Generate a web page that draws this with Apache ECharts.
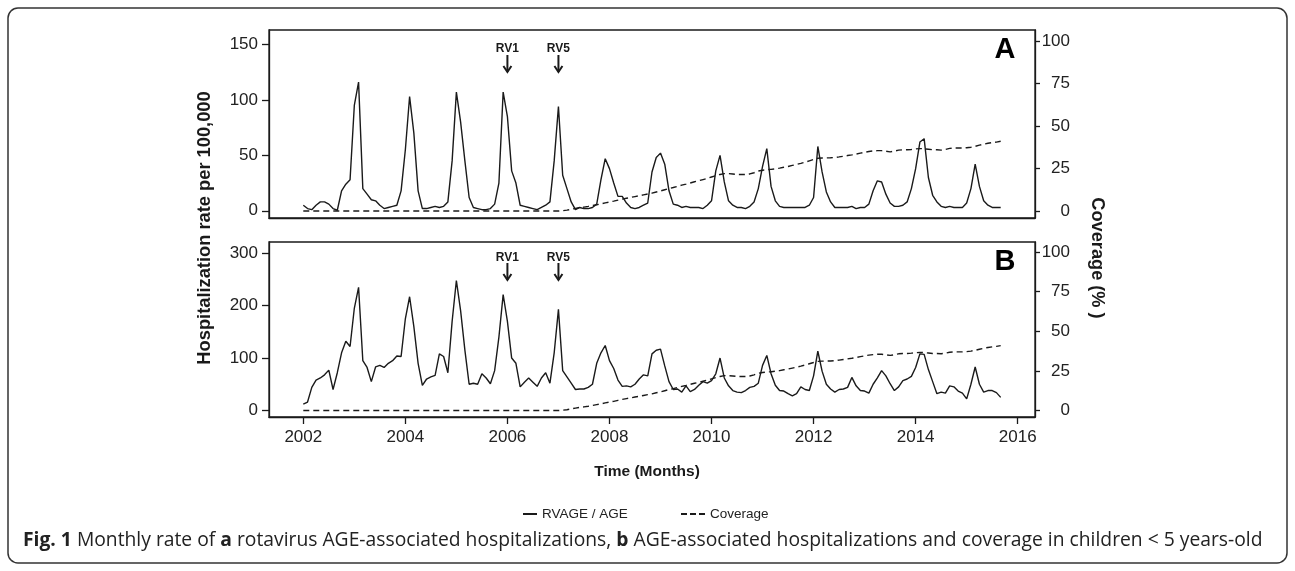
<!DOCTYPE html>
<html>
<head>
<meta charset="utf-8">
<script src="https://cdn.jsdelivr.net/npm/echarts@6/dist/echarts.min.js"></script>
<style>
html,body{margin:0;padding:0;background:#fff;}
#chart{width:1295px;height:571px;}
</style>
</head>
<body>
<div id="chart"></div>
<script>
// ---------- data (monthly, Jan 2002 .. Sep 2015) ----------
const startYear = 2002;
// Panel A: rotavirus AGE hospitalization rate per 100,000
const rvageA = [
  5, 2, 1, 5, 8, 8, 6, 2, 0.5, 18, 24, 28,
  95, 116, 20, 15, 10, 9, 5, 2, 3, 4, 5, 18,
  55, 103, 70, 18, 2, 2, 3, 4, 3, 4, 8, 45,
  107, 80, 45, 12, 3, 2, 1, 1, 2, 6, 25, 107,
  85, 36, 25, 5, 4, 3, 2, 1, 3, 5, 8, 45,
  94, 32, 20, 8, 1, 3, 2, 2, 3, 6, 28, 47,
  38, 25, 13, 13, 7, 3, 2, 3, 5, 7, 35, 48,
  52, 42, 18, 6, 5, 3, 4, 3, 3, 3, 2, 5,
  9, 36, 50, 26, 9, 5, 3, 3, 2, 4, 8, 20,
  40, 56, 22, 9, 4, 3, 3, 3, 3, 3, 3, 5,
  12, 58, 35, 17, 8, 3, 3, 3, 3, 4, 2, 3,
  3, 6, 18, 27, 26, 15, 7, 4, 4, 5, 8, 20,
  38, 62, 65, 30, 14, 8, 4, 3, 4, 3, 3, 3,
  7, 20, 42, 22, 9, 5, 3, 3, 3
];
// Panel B: all-cause AGE hospitalization rate per 100,000
const ageB = [
  12, 16, 44, 58, 62, 68, 77, 40, 72, 110, 132, 122,
  195, 235, 95, 82, 55, 83, 86, 82, 90, 95, 104, 103,
  175, 217, 160, 90, 48, 60, 64, 67, 108, 103, 72, 170,
  248, 190, 115, 50, 52, 50, 70, 62, 51, 76, 140, 221,
  170, 100, 90, 45, 54, 62, 54, 46, 62, 72, 52, 110,
  193, 76, 64, 52, 40, 41, 41, 44, 50, 90, 110, 124,
  95, 80, 58, 46, 47, 45, 50, 60, 68, 66, 108, 115,
  117, 85, 55, 40, 41, 35, 47, 36, 40, 48, 55, 52,
  57, 70, 100, 62, 47, 38, 35, 34, 38, 44, 46, 52,
  86, 105, 70, 48, 38, 37, 32, 28, 32, 45, 40, 38,
  66, 113, 75, 50, 41, 35, 40, 41, 44, 63, 47, 38,
  37, 33, 50, 62, 76, 66, 51, 38, 45, 57, 60, 65,
  82, 108, 107, 78, 55, 32, 35, 33, 47, 45, 37, 33,
  22, 50, 83, 50, 35, 38, 38, 34, 25
];
// Vaccine coverage (%)
const coverage = [
  0,0,0,0,0,0,0,0,0,0,0,0,
  0,0,0,0,0,0,0,0,0,0,0,0,
  0,0,0,0,0,0,0,0,0,0,0,0,
  0,0,0,0,0,0,0,0,0,0,0,0,
  0,0,0,0,0,0,0,0,0,0,0,0,
  0, 0.2, 0.5, 1, 1.5, 2, 2.3, 2.7, 3.2, 3.7, 4.2, 4.8,
  5.3, 5.8, 6.4, 7, 7.5, 8, 8.5, 9, 9.5, 10, 10.5, 11.2,
  11.8, 12.5, 13.2, 13.8, 14.5, 15.2, 15.8, 16.5, 17.2, 17.8, 18.5, 19.2,
  20, 20.8, 21.5, 22, 22, 21.8, 21.5, 21.5, 21.5, 21.8, 22.5, 23.5,
  24, 24.3, 24.5, 24.8, 25.2, 25.7, 26.2, 26.8, 27.4, 28, 28.7, 29.5,
  30.3, 31, 31.2, 31.2, 31.3, 31.5, 31.8, 32.2, 32.6, 33, 33.5, 34,
  34.5, 35, 35.3, 35.5, 35.5, 35.2, 34.8, 35.2, 35.8, 36, 36, 36.2,
  36.5, 36.7, 36.6, 36.3, 36, 36, 35.8, 36.2, 36.8, 37, 37, 37,
  37.2, 37.5, 38, 38.7, 39.3, 39.8, 40.2, 40.5, 41
];
const yearTicks = [2002, 2004, 2006, 2008, 2010, 2012, 2014, 2016];
const ticksA = [0, 50, 100, 150];
const ticksB = [0, 100, 200, 300];
const ticksCov = [0, 25, 50, 75, 100];
const vaccines = [{ name: 'RV1', year: 2006 }, { name: 'RV5', year: 2007 }];
const panelLabels = ['A', 'B'];

// ---------- chart ----------
const FONT = '"Liberation Sans", Arial, Helvetica, sans-serif';
const INK = '#1a1a1a';
const toXY = arr => arr.map((v, i) => [startYear + i / 12, v]);

const chart = echarts.init(document.getElementById('chart'), null, { renderer: 'canvas' });

const grids = [
  { left: 269, top: 30, width: 766, height: 188 },
  { left: 269, top: 242, width: 766, height: 175 }
];

function xAx(gi, showLabels) {
  return {
    type: 'value', gridIndex: gi, min: 2001.328, max: 2016.339,
    splitLine: { show: false },
    axisLine: { show: true, onZero: false, lineStyle: { color: INK, width: 1.3 } },
    axisTick: { show: showLabels, customValues: yearTicks, length: 7, lineStyle: { color: INK, width: 1.3 } },
    axisLabel: {
      show: showLabels, customValues: yearTicks, margin: 12,
      fontFamily: FONT, fontSize: 17, color: '#222', formatter: v => String(v)
    }
  };
}
function yAx(gi, pos, min, max, ticks, margin, align, tickLen) {
  return {
    type: 'value', gridIndex: gi, position: pos, min: min, max: max,
    splitLine: { show: false },
    axisLine: { show: true, onZero: false, lineStyle: { color: INK, width: 1.3 } },
    axisTick: { show: true, customValues: ticks, length: tickLen, lineStyle: { color: INK, width: 1.3 } },
    axisLabel: {
      customValues: ticks, margin: margin, align: align,
      fontFamily: FONT, fontSize: 17, color: '#222', formatter: v => String(v)
    }
  };
}

const solid = { color: INK, width: 1.4, type: 'solid' };
const dashed = { color: INK, width: 1.4, type: [6, 4] };
const legendText = { fontFamily: FONT, fontSize: 13.5, color: '#222' };

chart.setOption({
  animation: false,
  backgroundColor: '#fff',
  grid: grids.map(g => Object.assign({ show: true, borderColor: INK, borderWidth: 1.3, backgroundColor: 'transparent' }, g)),
  xAxis: [xAx(0, false), xAx(1, true)],
  yAxis: [
    yAx(0, 'left', -6.5, 163, ticksA, 11, 'right', 7),
    yAx(0, 'right', -4.1, 106.4, ticksCov, 35, 'right', 5),
    yAx(1, 'left', -12.5, 321.5, ticksB, 11, 'right', 7),
    yAx(1, 'right', -4.1, 106.4, ticksCov, 35, 'right', 5)
  ],
  legend: [
    {
      data: [{ name: 'RVAGE / AGE', icon: 'path://M0,0h14v2h-14z' }],
      left: 518, top: 502, itemWidth: 14, itemHeight: 2, textStyle: legendText
    },
    {
      data: [{ name: 'Coverage', icon: 'path://M0,0h6v2h-6zM9,0h6v2h-6zM18,0h6v2h-6z' }],
      left: 676, top: 502, itemWidth: 24, itemHeight: 2, textStyle: legendText
    }
  ],
  series: [
    { name: 'RVAGE / AGE', type: 'line', xAxisIndex: 0, yAxisIndex: 0, data: toXY(rvageA), symbol: 'none', lineStyle: solid, itemStyle: { color: INK }, z: 3 },
    { name: 'Coverage', type: 'line', xAxisIndex: 0, yAxisIndex: 1, data: toXY(coverage), symbol: 'none', lineStyle: dashed, itemStyle: { color: INK }, z: 2 },
    { name: 'RVAGE / AGE', type: 'line', xAxisIndex: 1, yAxisIndex: 2, data: toXY(ageB), symbol: 'none', lineStyle: solid, itemStyle: { color: INK }, z: 3 },
    { name: 'Coverage', type: 'line', xAxisIndex: 1, yAxisIndex: 3, data: toXY(coverage), symbol: 'none', lineStyle: dashed, itemStyle: { color: INK }, z: 2 }
  ]
});

// ---------- annotations ----------
const g = [];
const textOffsets = [19, 15.5];   // label centre below grid top
const arrowOffsets = [[25, 42], [21, 38]];
grids.forEach((gr, gi) => {
  vaccines.forEach(v => {
    const px = chart.convertToPixel({ xAxisIndex: gi }, v.year);
    const ty = gr.top + textOffsets[gi];
    const a0 = gr.top + arrowOffsets[gi][0], a1 = gr.top + arrowOffsets[gi][1];
    g.push({ type: 'text', x: px, y: ty, style: { text: v.name, font: 'bold 12px ' + FONT, fill: INK, textAlign: 'center', textVerticalAlign: 'middle' } });
    g.push({ type: 'line', shape: { x1: px, y1: a0, x2: px, y2: a1 }, style: { stroke: INK, lineWidth: 2 } });
    g.push({ type: 'polyline', shape: { points: [[px - 4, a1 - 6], [px, a1], [px + 4, a1 - 6]] }, style: { stroke: INK, lineWidth: 2, fill: null } });
  });
  g.push({ type: 'text', x: gr.left + gr.width - 30, y: gr.top + 20, style: { text: panelLabels[gi], font: 'bold 29px ' + FONT, fill: '#000', textAlign: 'center', textVerticalAlign: 'middle' } });
});
g.push({ type: 'text', x: 205, y: 228, rotation: Math.PI / 2, style: { text: 'Hospitalization rate per 100,000', font: 'bold 18.3px ' + FONT, fill: INK, textAlign: 'center', textVerticalAlign: 'middle' } });
g.push({ type: 'text', x: 1097, y: 258, rotation: -Math.PI / 2, style: { text: 'Coverage (% )', font: 'bold 18.2px ' + FONT, fill: INK, textAlign: 'center', textVerticalAlign: 'middle' } });
g.push({ type: 'text', x: 647, y: 472, style: { text: 'Time (Months)', font: 'bold 15.5px ' + FONT, fill: INK, textAlign: 'center', textVerticalAlign: 'middle' } });
g.push({ type: 'rect', shape: { x: 8, y: 8, width: 1279, height: 555, r: 10 }, style: { fill: null, stroke: '#333', lineWidth: 1.5 } });
g.push({
  type: 'text', x: 23, y: 541,
  style: {
    text: '{b|Fig. 1} Monthly rate of {b|a} rotavirus AGE-associated hospitalizations, {b|b} AGE-associated hospitalizations and coverage in children < 5 years-old',
    font: '19.3px "Open Sans", sans-serif', fill: '#222', textVerticalAlign: 'middle',
    rich: { b: { font: 'bold 19.3px "Open Sans", sans-serif', fill: '#222' } }
  }
});
chart.setOption({ graphic: g });
</script>
</body>
</html>
